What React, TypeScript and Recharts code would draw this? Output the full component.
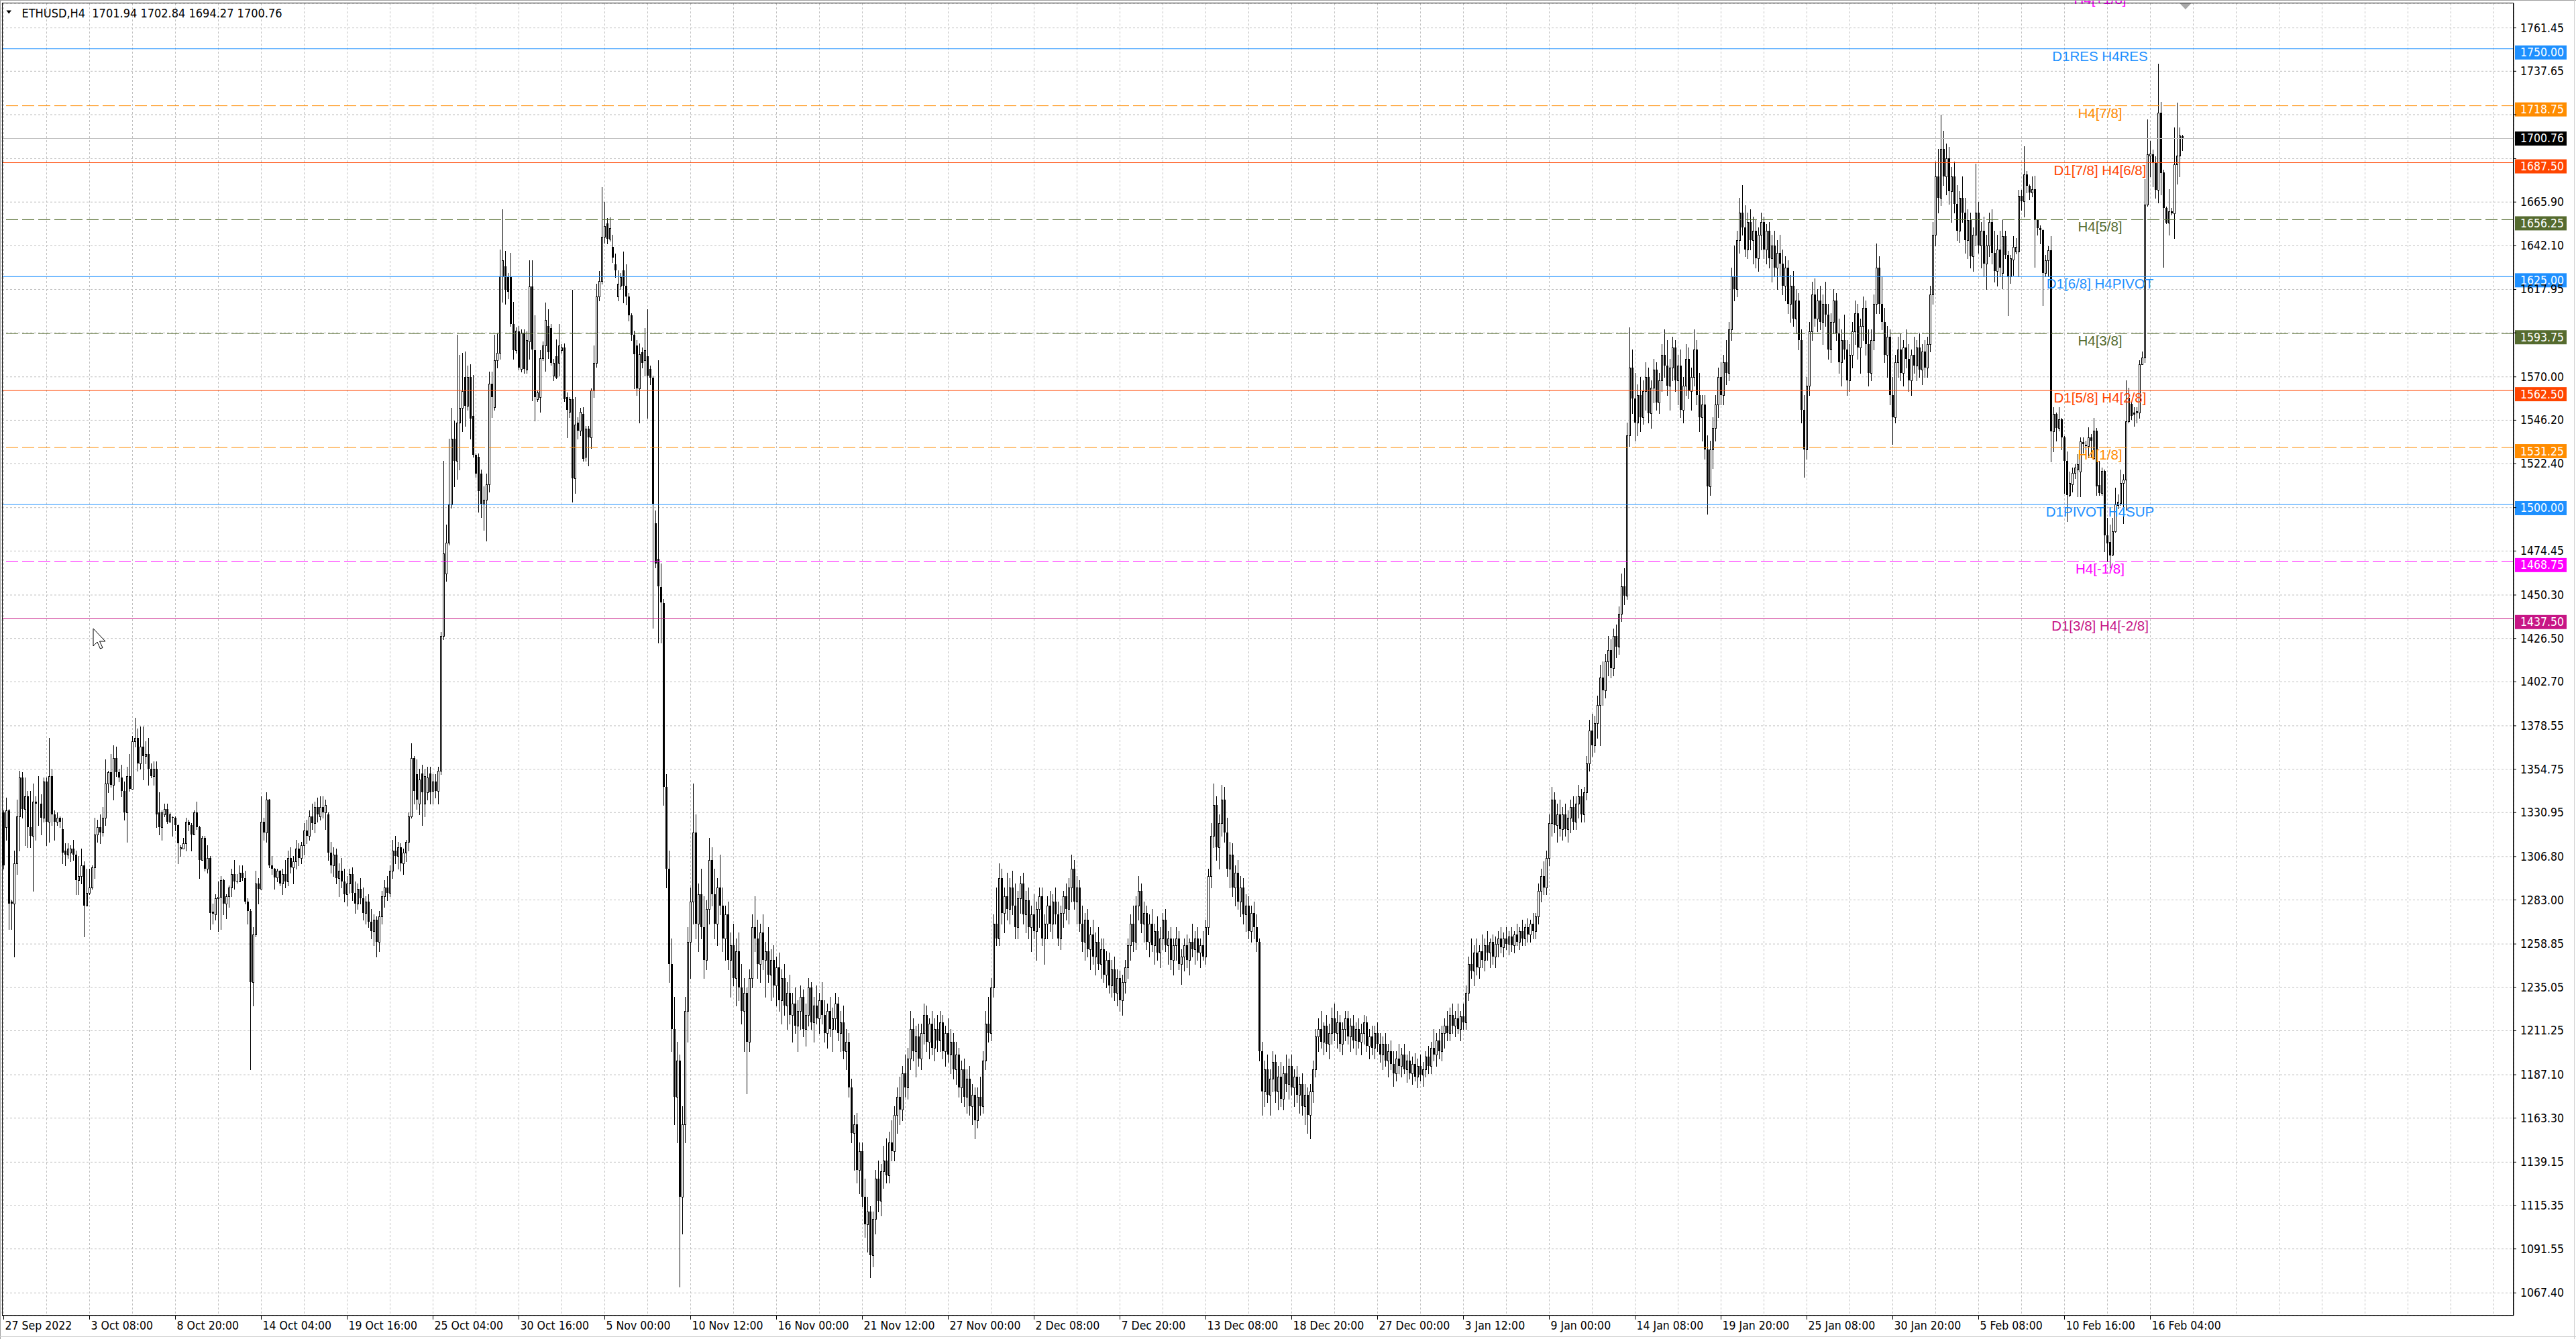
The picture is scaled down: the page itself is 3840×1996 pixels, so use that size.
import React from 'react';
import { ComposedChart, Bar, XAxis, YAxis, CartesianGrid, ReferenceLine, ReferenceDot } from 'recharts';

// ---------------- data (ETHUSD H4) ----------------
const opens = [
  1331,1323,1332,1282,1281,1303,1329,1350,1333,1340,
  1323,1318,1337,1336,1336,1328,1348,1326,1351,1330,
  1326,1328,1322,1310,1308,1309,1311,1308,1294,1296,
  1302,1280,1287,1290,1301,1319,1323,1320,1328,1347,
  1353,1346,1361,1353,1350,1343,1331,1351,1344,1370,
  1372,1358,1367,1362,1363,1355,1351,1355,1331,1323,
  1330,1333,1326,1328.5,1328,1324,1311,1311,1314,1326,
  1324,1319,1331,1323,1305,1317,1300,1306,1276.5,1275,
  1284,1284.5,1294,1281,1285,1290,1297,1293.5,1293,1298,
  1295,1282,1277,1238,1264,1292,1289,1326,1320,1338,
  1302,1300,1295.5,1299,1292,1297,1293,1306,1301,1304,
  1311,1306,1313,1321,1318,1329,1325,1334,1329,1334,
  1331,1330,1309,1302,1308,1295,1299,1293,1286,1292,
  1297,1287,1281,1289,1284,1276,1282,1271,1266,1272,
  1260,1274,1285,1290,1287,1299,1310,1307,1312,1303,
  1309,1315,1329,1360.7,1352,1336,1352.5,1336,1342,1352.5,
  1343,1348,1343,1353.7,1428,1462,1479,1500,1536,1524,
  1545,1553,1570,1554,1570,1548.5,1527.3,1526,1516.8,1500.3,
  1502.7,1510.9,1566.1,1553.2,1579,1583,1625,1630.6,1624.7,1624.7,
  1598.9,1584.8,1595,1574.3,1594.2,1574,1589.5,1619.6,1584.8,1557.9,
  1559,1580.2,1587.2,1597.8,1596.6,1570.8,1581.3,1577.8,1584.8,1586,
  1559,1550.8,1557.9,1514.4,1545,1540.3,1549.6,1526.2,1541.4,1536.7,
  1562.5,1577.8,1614.2,1622.4,1647,1654.1,1645.9,1641.2,1631.8,1614.2,
  1620,1628.3,1620,1614.2,1603.6,1593.1,1587.2,1563.7,1583.7,1579,
  1581.3,1574.3,1569.6,1489.8,1470,1454.6,
  1446,1345,1300,1248,
  1212,1175,1195,1120,1160,1222,1260,1282,1320,1270,
  1286,1268,1250,1278,1305,1286,1270,1290,1280,1262,
  1275,1250,1258,1240,1255,1235,1222,1232,1205,1240,
  1268,1262,1248,1265,1250,1255,1242,1250,1236,1246,
  1228,1240,1225,1232,1220,1226,1214,1222,1230,1212,
  1220,1235,1216,1225,1218,1228,1220,1210,1222,1212,
  1218,1226,1210,1216,1200,1205,1180,1155,1160,1135,
  1145,1120,1105,1112,1088,1108,1130,1118,1134,1140,
  1132,1150,1145,1165,1175,1168,1188,1180,1196,1212,
  1200,1208,1196,1210,1220,1205,1215,1202,1212,1206,
  1216,1200,1210,1198,1205,1190,1198,1180,1190,1175,
  1185,1170,1176,1162,1175,1170,1195,1215,1210,1235,
  1270,1262,1295,1276,1285,1278,1290,1280,1268,1284,
  1292,1275,1283,1268,1275,1266,1278,1285,1262,1270,
  1280,1270,1282,1275,1262,1276,1285,1278,1290,1300,
  1282,1290,1270,1260,1272,1256,1264,1252,1260,1248,
  1256,1242,1250,1236,1245,1232,1240,1228,1238,1246,
  1258,1270,1260,1280,1288,1270,1276,1260,1270,1258,
  1266,1254,1262,1272,1258,1262,1250,1258,1262,1248,
  1252,1258,1250,1260,1256,1262,1254,1258,1252,1268,
  1296,1318,1335,1312,1325,1338,1320,1300,1308,1290,
  1298,1282,1290,1275,1280,1266,1276,1268,1260,1200,
  1178,1190,1176,1185,1194,1178,1186,1174,1188,1182,
  1192,1180,1186,1176,1182,1170,1176,1165,1178,1190,
  1208,1212,1205,1214,1204,1210,1218,1210,1216,1204,
  1212,1218,1208,1214,1206,1212,1205,1210,1216,1203,
  1208,1202,1210,1204,1198,1204,1195,1200,1193,1188,
  1196,1192,1198,1190,1195,1188,1193,1186,1192,1187,
  1190,1197,1192,1202,1198,1206,1200,1210,1214,1210,
  1220,1214,1218,1212,1219,1216,1232,1248,1244,1254,
  1246,1255,1250,1258,1254,1260,1252,1259,1262,1257,
  1262,1259,1263,1258,1264,1260,1266,1262,1268,1264,
  1270,1266,1274,1288,1296,1290,1306,1325,1338,1324,
  1330,1322,1330,1322,1328,1334,1326,1336,1340,1330,
  1342,1358,1376,1368,1380,1390,1405,1398,1414,1420,
  1410,1428,1422,1440,1455,1450,1538,1575,1558,1545,
  1560,1548,1562,1570,1550,1564,1574,1556,1568,1582,
  1576,1565,1575,1586,1568,1576,1552,1565,1580,1562,
  1570,1585,1560,1548,1555,1530,1510,1530,1542,1555,
  1570,1560,1578,1572,1596,1625,1618,1645,1660,1652,
  1640,1655,1645,1650,1635,1648,1655,1640,1650,1635,
  1642,1630,1638,1632,1620,1630,1610,1620,1602,1612,
  1590,1552,1530,1565,1595,1615,1602,1612,1600,1610,
  1604,1585,1600,1612,1594,1578,1590,1585,1568,1582,
  1595,1605,1586,1598,1608,1588,1572,1590,1610,1630,
  1610,1600,1582,1592,1560,1548,1578,1585,1572,1586,
  1580,1568,1582,1576,1586,1574,1584,1575,1588,1615,
  1648,1680,1668,1695,1680,1690,1672,1680,1665,1650,
  1668,1660,1645,1656,1636,1648,1660,1642,1650,1632,
  1642,1655,1638,1628,1640,1627.1,1647.3,1636.9,1625.3,1634.4,
  1638.8,1638.8,1669.4,1666.4,1681.1,1674.9,1671.3,1673.1,1655.9,1651.6,
  1650.4,1627.1,1633.8,1639.4,1540,1549.8,1541.8,1546.7,1536.9,1524,
  1505,1511.2,1517.3,1519.1,1517.9,1534.1,1532.4,1532,1536.9,1525.3,
  1540.6,1510.5,1506.2,1518.5,1482.9,1479.2,1472.5,1485.4,1499.5,1500.7,
  1511.8,1513.6,1545.5,1555.3,1550.4,1550.4,1550.4,1576.8,1580.5,1664.5,
  1691.5,1692.1,1687.2,1672.5,1714.8,1682.3,1662.7,1654.7,1660.8,1659.6,
  1686.6,1691.5,1701.94,
];
const highs = [
  1332,1339,1333,1283,1310,1338,1354,1353,1350,1343,
  1343,1347,1340,1351,1341,1350,1350,1372,1355,1332,
  1331,1329,1328,1314,1314,1313,1316,1310,1307,1311,
  1304,1300,1300,1302,1328,1327,1330,1334,1360,1354,
  1363,1368,1367,1355,1357,1348,1356,1363,1373,1383,
  1377,1378,1378,1370,1372,1358,1359,1359,1342,1332,
  1336,1336,1331,1329,1329,1324.5,1313,1317,1328,1327,
  1325,1332,1337,1323.5,1318,1318,1313,1307,1281,1286,
  1293,1296,1294.5,1286,1291,1300,1305,1297,1302,1302,
  1299,1284,1278,1268,1299,1295,1340,1328,1342,1338.5,
  1307,1300.5,1300,1299.5,1300,1305,1310,1312,1307,1316,
  1314,1315,1325,1327,1332,1336,1337,1339,1340,1340,
  1338,1331,1315,1312,1311,1303,1306,1300,1296,1300,
  1301,1293,1292,1295,1290,1285,1286,1278,1275,1274,
  1277,1288,1294,1296,1302,1316,1318,1315,1314,1311,
  1316,1331,1369,1362,1360,1355,1357,1355,1356,1356,
  1352,1352,1356,1430,1524,1489,1536,1553,1546,1593,
  1582,1583,1584,1576,1577,1571,1528,1528,1519,1510,
  1517,1573,1573,1593,1594,1640,1662,1639,1627,1638,
  1611,1597,1598,1596,1596,1595,1634,1634,1603.6,1562.5,
  1584.8,1589.5,1610.7,1607.1,1598.9,1580,1590.7,1598.9,1588,1588.4,
  1561.4,1559,1617.7,1559,1548,1553,1553.2,1543,1543,1563.7,
  1587.2,1621.2,1628,1674,1665.8,1657,1657.6,1648,1637.6,1628.3,
  1627,1638.8,1631.8,1616,1605,1595.4,1590,1588.4,1586,1596.6,
  1607.1,1576,1570.8,1496.8,1579,1467.5,
  1448,1352,1310,1262,
  1230,1205,1198,1170,1230,1268,1290,1347,1330,1292,
  1300,1285,1283,1317,1312,1300,1295,1308,1290,1280,
  1282,1265,1270,1262,1265,1248,1240,1235,1245,1275,
  1285,1272,1270,1275,1260,1268,1256,1258,1252,1254,
  1245,1248,1238,1242,1232,1235,1228,1236,1234,1226,
  1240,1238,1230,1236,1232,1238,1228,1226,1230,1224,
  1232,1230,1222,1225,1212,1210,1185,1165,1166,1150,
  1150,1130,1120,1115,1112,1135,1140,1138,1148,1152,
  1156,1162,1170,1180,1186,1192,1198,1202,1222,1218,
  1214,1215,1215,1226,1225,1218,1222,1218,1220,1222,
  1220,1214,1218,1212,1210,1205,1202,1195,1196,1190,
  1192,1182,1180,1180,1186,1200,1222,1230,1240,1275,
  1290,1303,1300,1290,1298,1295,1299,1292,1288,1296,
  1298,1288,1290,1280,1286,1282,1290,1290,1275,1285,
  1288,1286,1290,1282,1280,1288,1292,1295,1308,1305,
  1296,1294,1280,1276,1278,1268,1272,1265,1268,1262,
  1262,1255,1254,1250,1252,1245,1244,1242,1250,1262,
  1275,1280,1285,1296,1292,1282,1280,1275,1278,1270,
  1274,1268,1276,1278,1266,1268,1262,1268,1266,1256,
  1262,1264,1262,1270,1266,1268,1262,1266,1272,1300,
  1325,1347,1340,1330,1346,1345,1328,1315,1314,1302,
  1305,1296,1295,1286,1285,1280,1282,1275,1262,1205,
  1195,1198,1190,1200,1198,1192,1194,1192,1198,1196,
  1198,1190,1192,1186,1188,1182,1180,1182,1195,1212,
  1218,1222,1216,1220,1215,1224,1226,1222,1220,1216,
  1222,1222,1218,1220,1216,1218,1215,1220,1219,1212,
  1214,1214,1216,1210,1208,1210,1204,1206,1200,1200,
  1204,1202,1204,1198,1200,1197,1199,1196,1198,1194,
  1200,1203,1205,1212,1210,1212,1214,1218,1222,1224,
  1226,1222,1226,1222,1226,1236,1252,1262,1258,1262,
  1258,1264,1262,1266,1262,1264,1263,1266,1268,1265,
  1268,1266,1268,1266,1270,1268,1272,1270,1273,1272,
  1276,1276,1292,1300,1304,1310,1330,1345,1342,1336,
  1338,1334,1336,1332,1338,1340,1340,1346,1344,1345,
  1362,1382,1385,1384,1395,1412,1414,1418,1428,1426,
  1432,1434,1444,1462,1465,1545,1597,1585,1572,1566,
  1570,1568,1578,1575,1568,1580,1578,1572,1588,1596,
  1590,1580,1592,1590,1582,1585,1570,1588,1586,1575,
  1596,1590,1572,1560,1560,1538,1535,1548,1560,1575,
  1578,1582,1590,1600,1630,1642,1650,1668,1675,1664,
  1660,1662,1658,1656,1652,1660,1658,1654,1655,1648,
  1650,1645,1648,1640,1636,1634,1626,1628,1618,1616,
  1596,1560,1570,1600,1622,1624,1618,1620,1615,1622,
  1610,1605,1618,1616,1602,1596,1604,1590,1588,1600,
  1612,1610,1602,1614,1612,1596,1596,1615,1643,1636,
  1625,1608,1598,1596,1570,1582,1592,1594,1590,1596,
  1588,1585,1592,1590,1594,1588,1590,1592,1620,1655,
  1688,1695,1714,1705,1698,1696,1685,1688,1675,1672,
  1680,1668,1662,1660,1652,1687,1666,1655,1658,1648,
  1660,1662,1650,1648,1650,1656.5,1650,1639,1637,1647.3,
  1646.1,1672.5,1672.5,1696.4,1683,1675.5,1679.8,1680.5,1656.5,1653,
  1651,1636.9,1641.8,1647.3,1553.5,1550.4,1553.5,1547.3,1537.5,1528.9,
  1517.9,1520.3,1522.2,1527.7,1536.9,1536.9,1535,1542.4,1538.8,1547.3,
  1541.8,1524,1520.3,1519.1,1492.7,1489.1,1492.7,1509.3,1505.6,1519.1,
  1516.7,1568.2,1563.9,1555.9,1553.5,1553.5,1579.2,1584,1678.6,1711.1,
  1699.5,1694.6,1690.9,1741.8,1720.9,1683.5,1663.3,1673.1,1662.7,1706.8,
  1720.3,1706.8,1702.84,
];
const lows = [
  1300,1316,1267,1267,1252,1297,1310,1328,1313,1312,
  1312,1288,1316,1324,1319,1326,1313,1315,1324,1316,
  1324,1323,1303,1302,1306,1304,1305,1286,1286,1292,
  1263,1280,1286,1289,1295,1315,1314,1318,1324,1342,
  1345,1338,1351,1348,1340,1327,1315,1343,1344,1367,
  1354,1355,1349,1358,1346,1350,1346,1323,1319,1316,
  1329,1325,1326,1318,1321,1303,1307,1311,1310,1321,
  1310,1319,1322,1295,1305,1299,1298,1267,1270,1272,
  1266,1267,1275,1273,1279,1285,1289,1292.5,1293,1294,
  1281,1270,1190,1225,1263,1281,1289,1316,1315,1301,
  1297,1289,1293,1291,1286,1290,1291,1298,1292,1300,
  1302,1303,1308,1314,1316,1322,1320,1326,1327,1328,
  1322,1305,1298,1296,1292,1285,1290,1282,1280,1287,
  1283,1276,1278,1281,1272,1270,1268,1262,1258,1252,
  1255,1270,1279,1283,1285,1295,1303,1300,1299,1297,
  1304,1310,1328,1336,1333,1330,1324,1329,1338,1336,
  1336,1339,1336,1352,1426,1458,1478,1498,1510,1514,
  1519,1540,1543,1552,1536,1526,1515,1496,1493,1486,
  1480,1507,1548,1552,1575,1580,1611,1610,1613,1598,
  1580,1583,1574,1573,1572,1572,1580,1557,1546,1556.7,
  1550.8,1579,1573.1,1580.2,1576.6,1568,1569,1570.8,1583,1556.7,
  1536.7,1548,1501.5,1506.2,1536,1538,1523.8,1524,1521.4,1530.9,
  1559,1575.5,1612,1621.2,1643.5,1643,1644.7,1633,1624.7,1611.8,
  1618,1610.7,1609.5,1601,1590,1563.7,1560,1545,1575,1570.8,
  1547.3,1566,1432.3,1465.2,1424,1424.1,
  1335,1290,1238,1200,
  1160,1150,1071,1100,1150,1205,1240,1270,1262,1255,
  1262,1240,1245,1270,1280,1262,1258,1275,1255,1250,
  1245,1230,1236,1225,1228,1215,1200,1177,1200,1235,
  1255,1240,1238,1245,1230,1238,1228,1230,1225,1222,
  1215,1220,1212,1215,1205,1210,1200,1212,1208,1203,
  1214,1212,1205,1215,1210,1215,1205,1202,1208,1200,
  1212,1206,1200,1196,1190,1175,1150,1135,1128,1122,
  1115,1098,1090,1076,1082,1100,1112,1110,1125,1128,
  1128,1140,1140,1155,1160,1162,1175,1174,1190,1195,
  1186,1192,1190,1204,1200,1196,1198,1195,1200,1200,
  1196,1192,1194,1188,1185,1182,1175,1172,1170,1166,
  1165,1160,1152,1158,1165,1166,1190,1205,1206,1230,
  1258,1258,1270,1265,1272,1270,1275,1262,1262,1276,
  1270,1265,1262,1255,1262,1250,1268,1258,1248,1262,
  1266,1262,1270,1258,1256,1268,1272,1270,1282,1278,
  1270,1266,1255,1250,1252,1245,1248,1242,1245,1240,
  1238,1235,1232,1230,1228,1225,1222,1220,1232,1240,
  1250,1255,1256,1272,1265,1260,1256,1252,1255,1248,
  1250,1246,1256,1255,1248,1245,1242,1250,1245,1237,
  1244,1246,1242,1252,1248,1250,1246,1250,1248,1264,
  1290,1312,1305,1300,1318,1315,1296,1290,1285,1280,
  1278,1274,1270,1266,1262,1260,1262,1255,1195,1165,
  1170,1172,1165,1178,1172,1168,1170,1168,1178,1174,
  1176,1170,1172,1166,1165,1160,1155,1152,1172,1186,
  1200,1202,1198,1200,1196,1204,1206,1202,1200,1198,
  1206,1204,1200,1202,1198,1202,1198,1204,1200,1196,
  1198,1196,1200,1194,1190,1192,1186,1190,1181,1184,
  1188,1186,1188,1183,1185,1182,1184,1180,1184,1181,
  1186,1188,1188,1195,1192,1196,1195,1202,1206,1206,
  1210,1208,1210,1206,1212,1212,1228,1240,1236,1242,
  1240,1246,1244,1250,1246,1248,1246,1252,1254,1252,
  1256,1253,1255,1254,1258,1256,1258,1258,1260,1260,
  1262,1262,1270,1282,1286,1286,1302,1318,1320,1315,
  1318,1316,1318,1315,1320,1322,1322,1328,1326,1326,
  1338,1354,1362,1364,1372,1368,1390,1394,1406,1405,
  1406,1416,1418,1436,1445,1448,1532,1550,1535,1538,
  1540,1544,1552,1545,1542,1556,1552,1550,1562,1570,
  1560,1552,1568,1562,1555,1548,1545,1560,1558,1552,
  1565,1555,1540,1535,1525,1495,1505,1520,1535,1548,
  1555,1555,1566,1568,1590,1612,1614,1638,1648,1636,
  1635,1640,1632,1630,1628,1640,1635,1632,1630,1622,
  1625,1618,1626,1615,1612,1605,1600,1598,1594,1585,
  1545,1515,1525,1560,1590,1598,1595,1596,1588,1598,
  1580,1578,1594,1590,1572,1565,1580,1560,1562,1575,
  1588,1580,1572,1590,1582,1565,1568,1585,1605,1605,
  1596,1578,1570,1555,1533,1545,1570,1568,1565,1575,
  1562,1560,1572,1568,1570,1566,1570,1570,1584,1610,
  1642,1660,1664,1675,1670,1665,1655,1660,1645,1644,
  1655,1638,1635,1630,1628,1642,1638,1630,1625,1618,
  1636,1632,1622,1620,1625,1618.5,1635,1603.8,1621.6,1625.9,
  1637.5,1625.3,1661.4,1657.7,1671.3,1667.6,1668.8,1630.2,1647.9,1643,
  1609.3,1625.3,1625.3,1523.4,1528.9,1535,1540.6,1530.2,1506.2,1490.9,
  1504.4,1506.9,1514.2,1504.4,1504.4,1528.3,1530,1525.9,1525.9,1524.6,
  1505,1505,1505,1474.3,1468.8,1465.2,1471.9,1484.8,1497.6,1499.5,
  1489.7,1497,1544.9,1546.7,1543,1544.9,1547.3,1576.8,1578,1663.9,
  1680,1674.3,1668.2,1665.7,1670,1630.2,1654.1,1647.9,1659,1646.1,
  1676,1680,1694.27,
];
const closes = [
  1302,1332,1281,1281,1303,1329,1350,1333,1340,1323,
  1318,1337,1336,1336,1328,1348,1326,1351,1330,1326,
  1328,1326,1309,1308,1311,1311,1308,1294,1296,1302,
  1280,1287,1290,1301,1319,1323,1320,1328,1347,1353,
  1346,1361,1353,1350,1343,1331,1351,1344,1370,1372,
  1358,1367,1362,1363,1355,1351,1355,1330,1323,1331,
  1333,1326,1330,1328,1324,1314,1312,1314,1326,1324,
  1319,1331,1323,1305,1317,1300,1306,1276,1275.5,1284,
  1284.5,1294,1281,1285,1290,1297,1293,1293,1298,1295,
  1282,1277,1238,1264,1292,1289,1326,1320,1338,1302,
  1300,1295.5,1299,1292,1297,1293,1306,1301,1304,1311,
  1306,1313,1321,1318,1329,1325,1334,1330,1334,1331,
  1335,1309,1302,1308,1295,1299,1293,1286,1292,1297,
  1287,1281,1289,1284,1276,1282,1271,1266,1272,1260,
  1274,1285,1290,1287,1299,1310,1307,1312,1303,1309,
  1315,1329,1360.7,1343,1338,1349,1342,1351,1350,1342,
  1348,1343,1353.7,1428,1473,1479,1500,1536,1524,1545,
  1553,1562,1554,1570,1547,1527.3,1516.8,1507.4,1500.3,1502.7,
  1510.9,1566.1,1559,1579,1583,1625,1634,1617.7,1616.5,1598.9,
  1584.8,1595.4,1575,1594.2,1574.3,1590,1619.6,1585,1559,1561.4,
  1580.2,1587.2,1601.3,1583.7,1577.8,1577.8,1569.6,1587.2,1586,1557.9,
  1552,1557.9,1514.4,1543.8,1540.3,1550.8,1525,1541.4,1536.7,1562.5,
  1577.8,1614.2,1622.4,1647,1652.9,1645.9,1651.7,1635.3,1628.3,1621.2,
  1624.7,1620,1614.2,1603.6,1593.1,1582.5,1563.7,1582.5,1577.8,1584.8,
  1570.8,1569.6,1500.3,1467.5,1455,1446.4,
  1345,1300,1248,1212,
  1175,1195,1120,1160,1222,1260,1282,1320,1270,1286,
  1268,1250,1278,1305,1286,1270,1290,1280,1262,1275,
  1250,1258,1240,1255,1235,1222,1232,1205,1240,1268,
  1262,1248,1265,1250,1255,1242,1250,1236,1246,1228,
  1240,1225,1232,1220,1226,1214,1222,1230,1212,1220,
  1235,1216,1225,1218,1228,1220,1210,1222,1212,1218,
  1226,1210,1216,1200,1205,1180,1155,1160,1135,1145,
  1120,1105,1112,1088,1108,1130,1118,1134,1140,1132,
  1150,1145,1165,1175,1168,1188,1180,1196,1212,1200,
  1208,1196,1210,1220,1205,1215,1202,1212,1206,1216,
  1200,1210,1198,1205,1190,1198,1180,1190,1175,1185,
  1170,1176,1162,1175,1170,1195,1215,1210,1235,1270,
  1262,1295,1276,1285,1278,1290,1280,1268,1284,1292,
  1275,1283,1268,1275,1266,1278,1285,1262,1270,1280,
  1270,1282,1275,1262,1276,1285,1278,1290,1300,1282,
  1290,1270,1260,1272,1256,1264,1252,1260,1248,1256,
  1242,1250,1236,1245,1232,1240,1228,1238,1246,1258,
  1270,1260,1280,1288,1270,1276,1260,1270,1258,1266,
  1254,1262,1272,1258,1262,1250,1258,1262,1248,1252,
  1258,1250,1260,1256,1262,1254,1258,1252,1268,1296,
  1318,1335,1312,1325,1338,1320,1300,1308,1290,1298,
  1282,1290,1275,1280,1266,1276,1268,1260,1200,1178,
  1190,1176,1185,1194,1178,1186,1174,1188,1182,1192,
  1180,1186,1176,1182,1170,1176,1165,1178,1190,1208,
  1212,1205,1214,1204,1210,1218,1210,1216,1204,1212,
  1218,1208,1214,1206,1212,1205,1210,1216,1203,1208,
  1202,1210,1204,1198,1204,1195,1200,1193,1188,1196,
  1192,1198,1190,1195,1188,1193,1186,1192,1187,1190,
  1197,1192,1202,1198,1206,1200,1210,1214,1210,1220,
  1214,1218,1212,1219,1216,1232,1248,1244,1254,1246,
  1255,1250,1258,1254,1260,1252,1259,1262,1257,1262,
  1259,1263,1258,1264,1260,1266,1262,1268,1264,1270,
  1266,1274,1288,1296,1290,1306,1325,1338,1324,1330,
  1322,1330,1322,1328,1334,1326,1336,1340,1330,1342,
  1358,1376,1368,1380,1390,1405,1398,1414,1420,1410,
  1428,1422,1440,1455,1450,1538,1575,1558,1545,1560,
  1548,1562,1570,1550,1564,1574,1556,1568,1582,1576,
  1565,1575,1586,1568,1576,1552,1565,1580,1562,1570,
  1585,1560,1548,1555,1530,1510,1530,1542,1555,1570,
  1560,1578,1572,1596,1625,1618,1645,1660,1652,1640,
  1655,1645,1650,1635,1648,1655,1640,1650,1635,1642,
  1630,1638,1632,1620,1630,1610,1620,1602,1612,1590,
  1552,1530,1565,1595,1615,1602,1612,1600,1610,1604,
  1585,1600,1612,1594,1578,1590,1585,1568,1582,1595,
  1605,1586,1598,1608,1588,1572,1590,1610,1630,1610,
  1600,1582,1592,1560,1548,1578,1585,1572,1586,1580,
  1568,1582,1576,1586,1574,1584,1575,1588,1615,1648,
  1680,1668,1695,1680,1690,1672,1680,1665,1650,1668,
  1660,1645,1656,1636,1648,1660,1642,1650,1632,1642,
  1655,1638,1628,1640,1630,1647.3,1636.9,1625.3,1635.1,1641.2,
  1641.2,1669.4,1666.4,1681.1,1674.9,1671.3,1673.1,1655.9,1651.6,1650.4,
  1627.1,1633.8,1639.4,1540,1549.8,1541.8,1546.7,1536.9,1524,1505,
  1511.8,1517.3,1520.3,1522.2,1534.5,1533.2,1532.9,1536.9,1535.1,1540.6,
  1509.9,1506.2,1518.5,1482.9,1478.6,1471.9,1485.4,1500.1,1501.3,1511.8,
  1513.6,1545.5,1558.4,1548.6,1549.2,1551,1576.8,1580.5,1664.5,1692.1,
  1692.4,1687.2,1672.5,1714.8,1681.7,1662.7,1654.7,1660.8,1659.6,1686.6,
  1691.5,1702.5,1700.76,
];

const timeLabels = [
  '27 Sep 2022','3 Oct 08:00','8 Oct 20:00','14 Oct 04:00','19 Oct 16:00','25 Oct 04:00',
  '30 Oct 16:00','5 Nov 00:00','10 Nov 12:00','16 Nov 00:00','21 Nov 12:00','27 Nov 00:00',
  '2 Dec 08:00','7 Dec 20:00','13 Dec 08:00','18 Dec 20:00','27 Dec 00:00','3 Jan 12:00',
  '9 Jan 00:00','14 Jan 08:00','19 Jan 20:00','25 Jan 08:00','30 Jan 20:00','5 Feb 08:00',
  '10 Feb 16:00','16 Feb 04:00',
];
const barsPerLabel = 32;
const barsPerGrid = 16;
const gridCount = 59;

const priceTicks = [
  1761.45,1737.65,1713.85,1689.70,1665.90,1642.10,1617.95,1594.15,1570.00,1546.20,
  1522.40,1498.25,1474.45,1450.30,1426.50,1402.70,1378.55,1354.75,1330.95,1306.80,
  1283.00,1258.85,1235.05,1211.25,1187.10,1163.30,1139.15,1115.35,1091.55,1067.40,
];

const levelPrices = [1750, 1718.75, 1687.5, 1656.25, 1625, 1593.75, 1562.5, 1531.25, 1500, 1468.75, 1437.5];
const levelNames = ['D1RES H4RES','H4[7/8]','D1[7/8] H4[6/8]','H4[5/8]','D1[6/8] H4PIVOT','H4[3/8]','D1[5/8] H4[2/8]','H4[1/8]','D1PIVOT H4SUP','H4[-1/8]','D1[3/8] H4[-2/8]'];
const levelColors = ['#1e90ff','#ff8c00','#ff4500','#556b2f','#1e90ff','#556b2f','#ff4500','#ff8c00','#1e90ff','#ff00ff','#c71585'];
const levelDashed = [false,true,false,true,false,true,false,true,false,true,false];
const topLevelPrice = 1781.25;
const topLevelName = 'H4[+1/8]';
const topLevelColor = '#ff00ff';

const symbolTitle = 'ETHUSD,H4';
const headerValues = ['1701.94', '1702.84', '1694.27', '1700.76'];
const lastPrice = 1700.76;

const xDomain = [-0.625, 935.375];
const yDomain = [1055.0, 1774.92];
const labelBar = 781.25;

// ---------------- derived ----------------
const rows = opens.map((o, i) => ({ i, o, h: highs[i], l: lows[i], c: closes[i], range: [lows[i], highs[i]] }));
const xTicks = Array.from({ length: gridCount }, (_, k) => k * barsPerGrid);

const W = 3840;
const HT = 1996;
const AXIS_FONT = "'DejaVu Sans Condensed', 'Liberation Sans', Arial, sans-serif";
const LABEL_FONT = "'Liberation Sans', Arial, sans-serif";

const Candle = (props: any) => {
  const { x, y, width, height, payload } = props;
  if (!payload || x == null) return null;
  const { o, h, l, c } = payload;
  const top = Math.min(y, y + height);
  const bot = Math.max(y, y + height);
  const k = h > l ? (bot - top) / (h - l) : 0;
  const py = (v: number) => top + (h - v) * k;
  const cx = Math.round(x + width / 2 - 0.5) + 0.5;
  const bTop = Math.round(py(Math.max(o, c)));
  const bBot = Math.round(py(Math.min(o, c)));
  const up = c >= o;
  return (
    <g>
      <line x1={cx} x2={cx} y1={Math.round(top)} y2={Math.round(bot) + 1} stroke="#000" strokeWidth={1} shapeRendering="crispEdges" />
      {up ? (
        <rect x={cx - 1} y={bTop + 0.5} width={2} height={Math.max(bBot - bTop, 0)} fill="#fff" stroke="#000" strokeWidth={1} shapeRendering="crispEdges" />
      ) : (
        <rect x={cx - 1.5} y={bTop} width={3} height={Math.max(bBot - bTop, 1)} fill="#000" shapeRendering="crispEdges" />
      )}
    </g>
  );
};

const TimeTick = (props: any) => {
  const { x, y, payload } = props;
  const v = payload.value;
  if (v % barsPerLabel !== 0) return null;
  const label = timeLabels[v / barsPerLabel];
  if (!label) return null;
  return (
    <g>
      <line x1={x} x2={x} y1={y - 8} y2={y - 2} stroke="#000" strokeWidth={1} shapeRendering="crispEdges" />
      <text x={x + 2} y={y + 13} fontSize={17.5} fontFamily={AXIS_FONT} fill="#000">{label}</text>
    </g>
  );
};

const hiddenByBox = (v: number) =>
  levelPrices.some((p) => v - p > -6 && v - p < 3) || Math.abs(v - lastPrice) < 6;

const PriceTick = (props: any) => {
  const { x, y, payload } = props;
  if (hiddenByBox(payload.value)) return null;
  return (
    <text x={x} y={y + 6} fontSize={17.5} fontFamily={AXIS_FONT} fill="#000">{payload.value.toFixed(2)}</text>
  );
};

const PriceBox = (props: any) => {
  const { viewBox, text, bg, centered } = props;
  if (!viewBox) return null;
  const right = viewBox.x + viewBox.width;
  const y = viewBox.y;
  const top = centered ? y - 10.5 : y - 5;
  return (
    <g>
      <rect x={right + 2} y={top} width={77} height={21} fill={bg} />
      <text x={right + 10} y={top + 16.5} fontSize={17.5} fontFamily={AXIS_FONT} fill="#fff">{text}</text>
    </g>
  );
};

const LevelText = (props: any) => {
  const { viewBox, text, color } = props;
  if (!viewBox) return null;
  const cx = viewBox.x + (viewBox.width || 0) / 2;
  const cy = viewBox.y + (viewBox.height || 0) / 2;
  return (
    <text x={cx} y={cy + 18} textAnchor="middle" fontSize={20.5} fontFamily={LABEL_FONT} fill={color}>{text}</text>
  );
};

const ShiftMark = (props: any) => {
  const { cx, cy } = props;
  if (cx == null) return null;
  return <path d={`M${cx - 9.5},${cy - 1} L${cx + 9.5},${cy - 1} L${cx},${cy + 9} Z`} fill="#a8a8a8" />;
};

export default function App() {
  return (
    <div style={{ position: 'absolute', left: 0, top: 0, width: W, height: HT, background: '#fff', overflow: 'hidden' }}>
      <ComposedChart width={W} height={HT} data={rows} margin={{ top: 5, right: 0, bottom: 0, left: 3 }}>
        <CartesianGrid stroke="#c0c0c0" strokeDasharray="3 3" />
        <XAxis
          dataKey="i"
          type="number"
          domain={xDomain}
          ticks={xTicks}
          interval={0}
          height={35}
          tickSize={6}
          tickMargin={2}
          tickLine={false}
          tick={<TimeTick />}
          axisLine={{ stroke: '#000' }}
          allowDataOverflow
        />
        <YAxis
          orientation="right"
          type="number"
          domain={yDomain}
          ticks={priceTicks}
          interval={0}
          width={93}
          tickSize={4}
          tickMargin={6}
          tickLine={{ stroke: '#000' }}
          tick={<PriceTick />}
          axisLine={{ stroke: '#000' }}
          allowDataOverflow
        />
        {levelPrices.map((p, k) => (
          <ReferenceLine
            key={'l' + k}
            y={p}
            stroke={levelColors[k]}
            strokeWidth={1}
            strokeDasharray={levelDashed[k] ? '18 6' : undefined}
            label={<PriceBox text={p.toFixed(2)} bg={levelColors[k]} />}
          />
        ))}
        <ReferenceLine y={lastPrice} stroke="#c0c0c0" strokeWidth={1} label={<PriceBox text={lastPrice.toFixed(2)} bg="#000" centered />} />
        {levelPrices.map((p, k) => (
          <ReferenceDot key={'t' + k} x={labelBar} y={p} r={0} ifOverflow="visible" fill="none" stroke="none"
            label={<LevelText text={levelNames[k]} color={levelColors[k]} />} />
        ))}
        <ReferenceDot x={labelBar} y={topLevelPrice} r={0} ifOverflow="visible" fill="none" stroke="none"
          label={<LevelText text={topLevelName} color={topLevelColor} />} />
        <ReferenceDot x={rows.length + 0.1} y={yDomain[1]} r={1} ifOverflow="visible" shape={<ShiftMark />} />
        <Bar dataKey="range" barSize={3} shape={<Candle />} isAnimationActive={false} />
      </ComposedChart>
      <svg width={W} height={HT} style={{ position: 'absolute', left: 0, top: 0, pointerEvents: 'none' }}>
        <line x1={0} x2={W} y1={0.5} y2={0.5} stroke="#a0a0a0" />
        <line x1={0.5} x2={0.5} y1={0} y2={HT} stroke="#a0a0a0" />
        <line x1={W - 2.5} x2={W - 2.5} y1={0} y2={HT} stroke="#d0d0d0" />
        <line x1={0} x2={W} y1={HT - 3.5} y2={HT - 3.5} stroke="#d0d0d0" />
        <rect x={3.5} y={4.5} width={3743} height={1956.5} fill="none" stroke="#000" strokeWidth={1} />
        <path d="M9.5,15.5 L17,15.5 L13.25,20.5 Z" fill="#000" />
        <text x={32.5} y={26} fontSize={18} fontFamily={AXIS_FONT} fill="#000" xmlSpace="preserve">
          {symbolTitle + '  ' + headerValues.join(' ')}
        </text>
        <path d="M139,937 L139,963 L145,957 L149.5,967 L153,965.5 L148.5,956 L157,956 Z" fill="#fff" stroke="#000" strokeWidth={1} />
      </svg>
    </div>
  );
}
